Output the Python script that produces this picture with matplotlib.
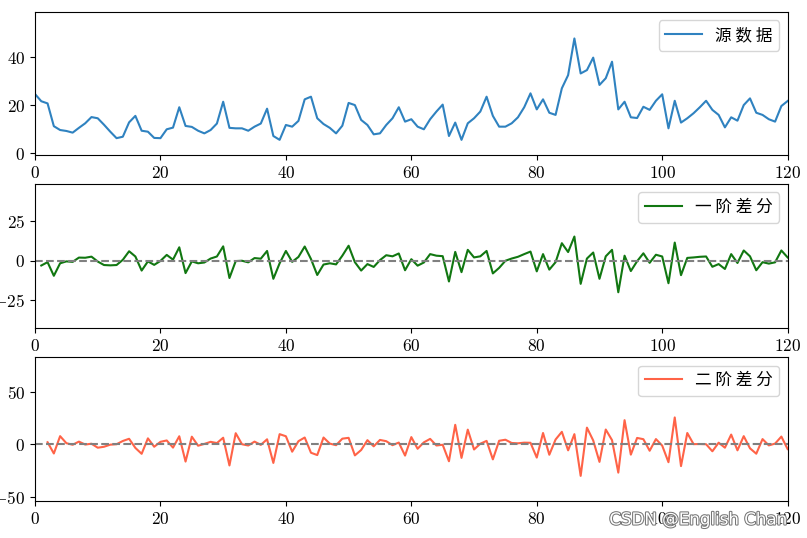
import numpy as np
import matplotlib
matplotlib.use('Agg')
from matplotlib import pyplot as plt
import matplotlib.patheffects as pe

plt.rcParams['font.family'] = ['cmr10', 'Noto Sans CJK SC', 'DejaVu Sans']
plt.rcParams['mathtext.fontset'] = 'cm'
plt.rcParams['axes.formatter.use_mathtext'] = True
plt.rcParams['axes.unicode_minus'] = True

# source series (x = 0..120)
source = [24.7, 21.7, 20.8, 11.3, 9.7, 9.3, 8.6, 10.6, 12.5, 15.1,
          14.6, 11.9, 9.0, 6.3, 6.9, 12.9, 15.6, 9.4, 9.0, 6.4,
          6.3, 10.0, 10.7, 19.2, 11.4, 11.0, 9.4, 8.3, 9.7, 12.4,
          21.5, 10.6, 10.4, 10.4, 9.4, 11.1, 12.4, 18.6, 7.2, 5.6,
          11.8, 11.1, 13.5, 22.5, 23.6, 14.6, 12.2, 10.6, 8.3, 11.5,
          21.0, 20.1, 13.9, 11.8, 7.9, 8.3, 11.8, 14.6, 19.2, 13.2,
          14.2, 11.1, 10.0, 14.2, 17.4, 20.3, 7.2, 12.8, 5.6, 12.5,
          14.6, 17.4, 23.6, 15.6, 11.1, 11.1, 12.5, 15.0, 19.2, 25.0,
          18.3, 22.5, 16.9, 16.0, 27.1, 32.6, 47.9, 33.3, 34.7, 39.9,
          28.5, 31.3, 38.2, 18.3, 21.5, 15.0, 14.7, 19.4, 18.1, 21.9,
          24.6, 10.4, 21.9, 12.8, 14.6, 16.7, 19.2, 21.9, 18.1, 16.0,
          10.8, 15.0, 13.6, 20.1, 22.9, 16.9, 16.0, 14.2, 13.2, 19.7,
          21.8]
x_ticks = [0, 20, 40, 60, 80, 100, 120]

src = np.array(source)
x = np.arange(len(src))
diff1 = np.diff(src)
diff2 = np.diff(diff1)

fig = plt.figure(figsize=(8.07, 5.38), dpi=100)
ax1 = fig.add_axes([0.0434, 0.712, 0.9326, 0.266])
ax2 = fig.add_axes([0.0434, 0.390, 0.9326, 0.268])
ax3 = fig.add_axes([0.0434, 0.069, 0.9326, 0.267])

cjk = {'family': 'Noto Sans CJK SC', 'size': 12}

ax1.plot(x, src, color='#2f82c0', lw=1.5, label='源 数 据')
ax1.set_ylim(-0.7, 59)
ax1.set_yticks([0, 20, 40])

ax2.plot(x[1:], diff1, color='#117711', lw=1.5, label='一 阶 差 分')
ax2.axhline(0, color='gray', ls='--', lw=1.5)
ax2.set_ylim(-42.6, 48.5)
ax2.set_yticks([-25, 0, 25])

ax3.plot(x[2:], diff2, color='tomato', lw=1.5, label='二 阶 差 分')
ax3.axhline(0, color='gray', ls='--', lw=1.5)
ax3.set_ylim(-53.7, 83)
ax3.set_yticks([-50, 0, 50])

for ax in (ax1, ax2, ax3):
    ax.set_xlim(0, 120)
    ax.set_xticks(x_ticks)
    ax.tick_params(labelsize=12.5)
    ax.legend(loc='upper right', prop=cjk, handlelength=2.2)

fig.text(0.755, 0.025, 'CSDN @English Chan', fontsize=12, family='DejaVu Sans',
         color='white',
         path_effects=[pe.withStroke(linewidth=1.5, foreground='#777777')])

fig.savefig('out.png', dpi=100)
